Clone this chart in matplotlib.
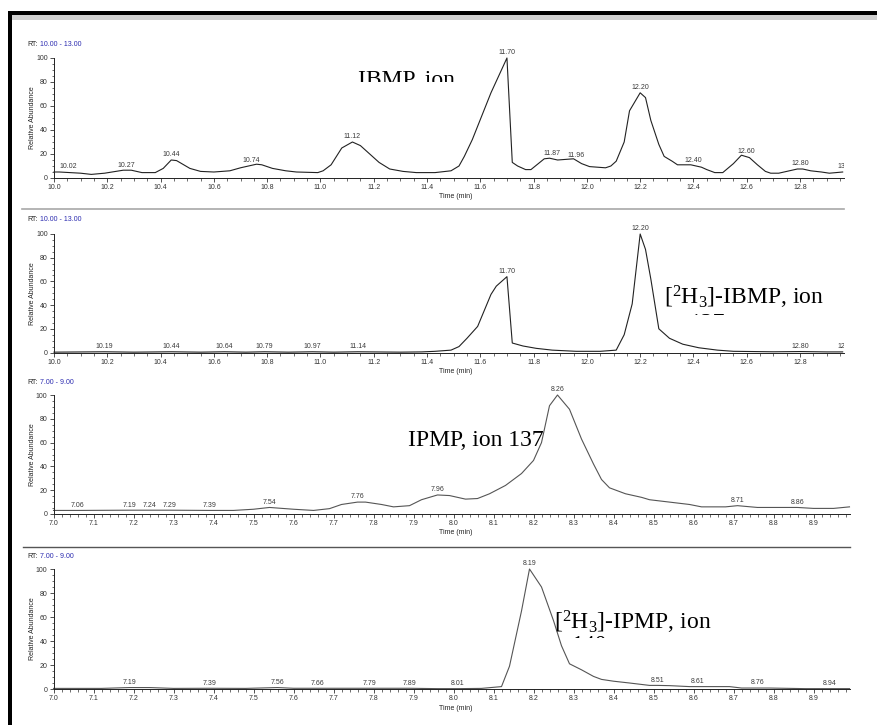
import numpy as np
import matplotlib
matplotlib.use("Agg")
import matplotlib.pyplot as plt
from matplotlib.patches import Rectangle
from matplotlib.lines import Line2D
from matplotlib.transforms import Bbox, TransformedBbox
from matplotlib.ticker import MultipleLocator

plt.rcParams["font.family"] = ["Liberation Sans", "DejaVu Sans"]
plt.rcParams["mathtext.fontset"] = "custom"
plt.rcParams["mathtext.rm"] = "Liberation Serif"
plt.rcParams["mathtext.default"] = "rm"

# --- datos leidos del cromatograma ---
# panel 1: IBMP, ion 124 (RT 10-13)
rt1 = [10.00, 10.02, 10.10, 10.14, 10.19, 10.26, 10.29, 10.33, 10.38, 10.41,
       10.44, 10.46, 10.51, 10.55, 10.60, 10.66, 10.70, 10.76, 10.78, 10.82,
       10.87, 10.91, 10.99, 11.01, 11.04, 11.08, 11.12, 11.15, 11.22, 11.26,
       11.31, 11.36, 11.43, 11.49, 11.52, 11.54, 11.57, 11.64, 11.70, 11.72,
       11.74, 11.77, 11.79, 11.84, 11.86, 11.89, 11.92, 11.95, 11.98, 12.01,
       12.07, 12.09, 12.11, 12.14, 12.16, 12.20, 12.22, 12.24, 12.27, 12.29,
       12.32, 12.34, 12.39, 12.43, 12.45, 12.48, 12.51, 12.55, 12.58, 12.61,
       12.64, 12.67, 12.69, 12.72, 12.75, 12.79, 12.81, 12.84, 12.88, 12.91,
       12.96]
ab1 = [5, 5, 4, 3, 4, 6.5, 6.5, 4.5, 4.5, 8,
       15, 14.5, 8, 5.5, 5, 6, 8.5, 11.5, 11, 8,
       6, 5, 4.5, 6, 11, 25, 30, 27, 13, 7.5,
       5.5, 4.5, 4.5, 6, 10, 18, 32, 71, 100, 13,
       10, 7, 7, 16, 16.5, 15, 15.5, 16, 12, 9.5,
       8.5, 10, 14, 30, 56, 71, 67, 48, 28, 18,
       14, 11, 11, 9, 7, 4.5, 4.5, 12, 19, 17,
       11, 5.5, 4, 4, 5.5, 7.5, 7.5, 6, 5, 4,
       5]
lab1_rt = [10.02, 10.27, 10.44, 10.74, 11.12, 11.70, 11.87, 11.96, 12.20, 12.40, 12.60, 12.80, 12.975]
lab1_txt = ["10.02", "10.27", "10.44", "10.74", "11.12", "11.70", "11.87", "11.96", "12.20", "12.40", "12.60", "12.80", "13.00"]

# panel 2: [2H3]-IBMP, ion 127
rt2 = [10.00, 10.19, 10.30, 10.44, 10.55, 10.64, 10.72, 10.79, 10.88, 10.97,
       11.05, 11.14, 11.30, 11.38, 11.43, 11.49, 11.52, 11.55, 11.59, 11.64,
       11.66, 11.70, 11.72, 11.76, 11.81, 11.87, 11.96, 12.05, 12.11, 12.14,
       12.17, 12.20, 12.22, 12.24, 12.27, 12.31, 12.36, 12.42, 12.49, 12.55,
       12.70, 12.80, 12.90, 12.96]
ab2 = [0.3, 0.6, 0.3, 0.6, 0.3, 0.6, 0.3, 0.6, 0.3, 0.6,
       0.3, 0.6, 0.3, 0.5, 1, 2, 5, 12, 22, 49,
       56, 64, 8, 5.5, 3.5, 2, 1, 1, 2, 15,
       41, 100, 87, 62, 20, 12, 7, 4, 2, 1,
       0.6, 0.8, 0.5, 0.5]
lab2_rt = [10.19, 10.44, 10.64, 10.79, 10.97, 11.14, 11.70, 12.20, 12.80, 12.975]
lab2_txt = ["10.19", "10.44", "10.64", "10.79", "10.97", "11.14", "11.70", "12.20", "12.80", "12.97"]

# panel 3: IPMP, ion 137 (RT 7-9)
rt3 = [7.00, 7.06, 7.19, 7.24, 7.29, 7.39, 7.45, 7.50, 7.54, 7.60,
       7.65, 7.69, 7.72, 7.76, 7.78, 7.82, 7.85, 7.89, 7.92, 7.96,
       7.99, 8.03, 8.06, 8.09, 8.13, 8.17, 8.20, 8.22, 8.24, 8.26,
       8.29, 8.32, 8.35, 8.37, 8.39, 8.43, 8.47, 8.49, 8.54, 8.59,
       8.62, 8.68, 8.71, 8.76, 8.79, 8.86, 8.90, 8.95, 8.99]
ab3 = [3, 3, 3.2, 3.2, 3.2, 3, 3, 4, 5.5, 4,
       3, 4.5, 8, 10, 10, 8, 6, 7, 12, 16,
       15.5, 12.5, 13, 17, 24, 34, 45, 60, 91, 100,
       88, 63, 42, 29, 22, 17, 14, 12, 10, 8,
       6, 6, 7, 5.5, 5.5, 5.5, 4.7, 4.7, 6]
lab3_rt = [7.06, 7.19, 7.24, 7.29, 7.39, 7.54, 7.76, 7.96, 8.26, 8.71, 8.86]
lab3_txt = ["7.06", "7.19", "7.24", "7.29", "7.39", "7.54", "7.76", "7.96", "8.26", "8.71", "8.86"]

# panel 4: [2H3]-IPMP, ion 140
rt4 = [7.00, 7.12, 7.19, 7.24, 7.30, 7.39, 7.48, 7.56, 7.60, 7.66,
       7.79, 7.89, 7.96, 8.01, 8.07, 8.12, 8.14, 8.17, 8.19, 8.22,
       8.25, 8.27, 8.29, 8.32, 8.35, 8.37, 8.40, 8.44, 8.49, 8.51,
       8.54, 8.59, 8.61, 8.69, 8.72, 8.76, 8.79, 8.88, 8.94, 8.99]
ab4 = [0.5, 0.5, 1.2, 1.2, 0.5, 0.6, 0.5, 1.2, 0.6, 0.6,
       0.6, 0.6, 0.3, 0.3, 0.5, 2, 19, 65, 100, 85,
       57, 36, 21, 16, 10.5, 8, 6.5, 5, 3, 3,
       2.8, 2, 2, 2, 0.8, 0.8, 0.8, 0.3, 0.3, 0.3]
lab4_rt = [7.19, 7.39, 7.56, 7.66, 7.79, 7.89, 8.01, 8.19, 8.51, 8.61, 8.76, 8.94]
lab4_txt = ["7.19", "7.39", "7.56", "7.66", "7.79", "7.89", "8.01", "8.19", "8.51", "8.61", "8.76", "8.94"]

W, H = 877, 725
fig = plt.figure(figsize=(W / 100, H / 100), dpi=100)
fig.patch.set_facecolor("white")


def fx(x):
    return x / W


def fy(y):
    return 1 - y / H


def panel(rt, ab, lab_rt, lab_txt, xlim, major, minor, left, right, y100, y0,
          rt_y, rt_range, color):
    ax = fig.add_axes([fx(left), fy(y0), (right - left) / W, (y0 - y100) / H])
    ax.patch.set_alpha(0)
    ax.set_xlim(xlim)
    ax.set_ylim(0, 100)
    for s in ["top", "right"]:
        ax.spines[s].set_visible(False)
    for s in ["left", "bottom"]:
        ax.spines[s].set_linewidth(0.7)
        ax.spines[s].set_color("#222222")
    ax.plot(rt, ab, color=color, lw=0.8, clip_on=False)

    ax.xaxis.set_major_locator(MultipleLocator(major))
    ax.xaxis.set_minor_locator(MultipleLocator(minor))
    ax.yaxis.set_major_locator(MultipleLocator(20))
    ax.yaxis.set_minor_locator(MultipleLocator(5))
    ax.tick_params(which="major", labelsize=5, length=3, width=0.6, pad=1.5,
                   colors="#333333")
    ax.tick_params(which="minor", length=1.8, width=0.5, colors="#333333")

    # etiquetas de los picos
    for r, t in zip(lab_rt, lab_txt):
        yv = np.interp(r, rt, ab)
        ha = "left" if r - xlim[0] < 0.03 else "center"
        clip = r > xlim[1] - 0.03
        ax.annotate(t, (r, yv), xytext=(0, 1.2), textcoords="offset points",
                    ha=ha, va="bottom", fontsize=5, color="#3a3a3a",
                    annotation_clip=False, clip_on=clip)

    fig.text(fx(456), fy(y0 + 19), "Time (min)", ha="center", va="center",
             fontsize=5, color="#222222")
    fig.text(fx(33), fy((y0 + y100) / 2), "Relative Abundance", rotation=90,
             ha="center", va="center", fontsize=5, color="#222222")
    fig.text(fx(27), fy(rt_y), "RT:", ha="left", va="center", fontsize=5,
             color="#222222")
    fig.text(fx(40), fy(rt_y), rt_range, ha="left", va="center", fontsize=5,
             color="#2b2bb0")
    return ax


def big(x, y_base, s, clip_y=None):
    t = fig.text(fx(x), fy(y_base), s, ha="left", va="baseline", fontsize=17,
                 family="Liberation Serif", color="black")
    if clip_y is not None:
        bb = TransformedBbox(Bbox([[0, fy(clip_y)], [1, 1]]), fig.transFigure)
        t.set_clip_box(bb)
        t.set_clip_on(True)
    return t


panel(rt1, ab1, lab1_rt, lab1_txt, (10.0, 12.965), 0.2, 0.05, 54, 844, 58, 178,
      44, "10.00 - 13.00", "#222222")
panel(rt2, ab2, lab2_rt, lab2_txt, (10.0, 12.965), 0.2, 0.05, 54, 844, 234, 352.5,
      220, "10.00 - 13.00", "#222222")
panel(rt3, ab3, lab3_rt, lab3_txt, (7.0, 8.99), 0.1, 0.02, 53.5, 849.5, 395, 514,
      382, "7.00 - 9.00", "#555555")
panel(rt4, ab4, lab4_rt, lab4_txt, (7.0, 8.99), 0.1, 0.02, 53.5, 849.5, 569, 689,
      557, "7.00 - 9.00", "#555555")

# textos grandes (recortados como en el original)
big(358, 86, "IBMP, ion", clip_y=82)
big(664, 305, r"[$^{2}$H$_{3}$]-IBMP, ion", clip_y=315)
big(690, 329, "127", clip_y=315)
big(408, 446, "IPMP, ion 137")
big(554, 630, r"[$^{2}$H$_{3}$]-IPMP, ion", clip_y=638)
big(572, 651, "140", clip_y=638)

# marco y separadores
fig.add_artist(Rectangle((fx(8), fy(15)), 1 - fx(8), 4 / H, transform=fig.transFigure,
                         color="black", lw=0))
fig.add_artist(Rectangle((fx(12), fy(20)), 1 - fx(12), 5 / H, transform=fig.transFigure,
                         color="#d0d0d0", lw=0))
fig.add_artist(Rectangle((fx(8), 0), 4 / W, fy(11), transform=fig.transFigure,
                         color="black", lw=0))
fig.add_artist(Line2D([fx(22), fx(844)], [fy(209), fy(209)], transform=fig.transFigure,
                      color="#a8a8a8", lw=1.2))
fig.add_artist(Line2D([fx(23), fx(850)], [fy(547), fy(547)], transform=fig.transFigure,
                      color="#555555", lw=1.0))

fig.savefig("out.png", dpi=100)
